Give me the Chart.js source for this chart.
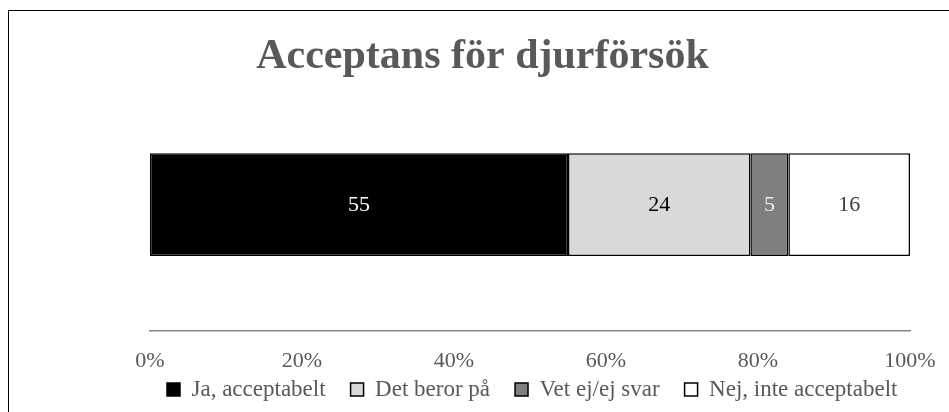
<!DOCTYPE html>
<html>
<head>
<meta charset="utf-8">
<script src="https://cdn.jsdelivr.net/npm/chart.js@4.4.0/dist/chart.umd.min.js"></script>
<style>
  html, body { margin: 0; padding: 0; background: #fff; overflow: hidden; }
  #frame { position: absolute; left: 8px; top: 10px; width: 980px; height: 440px; border: 1px solid #000; }
  #wrap { position: absolute; left: 9px; top: 11px; width: 947px; height: 422px; }
</style>
</head>
<body>
<div id="frame"></div>
<div id="wrap"><canvas id="chart"></canvas></div>
<script>
const categories = ['Acceptans för djurförsök'];
const seriesNames = ['Ja, acceptabelt', 'Det beror på', 'Vet ej/ej svar', 'Nej, inte acceptabelt'];
const seriesValues = [[55], [24], [5], [16]];
const seriesColors = ['#000000', '#d9d9d9', '#7f7f7f', '#ffffff'];
const valueColors = ['#ffffff', '#000000', '#eeeeee', '#404040'];
const tickLabels = ['0%', '20%', '40%', '60%', '80%', '100%'];

const serif = "'Liberation Serif', 'Times New Roman', serif";

// draws the numbers in the middle of each segment
const valueLabels = {
    id: 'valueLabels',
    afterDatasetsDraw(chart) {
        const ctx = chart.ctx;
        ctx.save();
        ctx.font = '22px ' + serif;
        ctx.textAlign = 'center';
        ctx.textBaseline = 'middle';
        chart.data.datasets.forEach((ds, i) => {
            const meta = chart.getDatasetMeta(i);
            meta.data.forEach((bar, j) => {
                const p = bar.getCenterPoint();
                ctx.fillStyle = valueColors[i];
                ctx.fillText(String(ds.data[j]), p.x, p.y + 1);
            });
        });
        ctx.restore();
    }
};

// pull the legend up closer to the tick labels and under the bar
const legendNudge = {
    id: 'legendNudge',
    afterLayout(chart) {
        const lg = chart.legend;
        lg.top -= 22;
        lg.bottom -= 22;
        lg.left += 87;
        lg.right += 87;
    }
};

const datasets = seriesNames.map((name, i) => ({
    label: name,
    data: seriesValues[i],
    backgroundColor: seriesColors[i],
    borderColor: '#000000',
    borderWidth: 1.5,
    borderSkipped: false,
    barPercentage: 1,
    categoryPercentage: 0.407
}));

const ctx = document.getElementById('chart').getContext('2d');
new Chart(ctx, {
    type: 'bar',
    data: { labels: categories, datasets: datasets },
    plugins: [valueLabels, legendNudge],
    options: {
        indexAxis: 'y',
        responsive: true,
        maintainAspectRatio: false,
        animation: false,
        layout: { padding: { left: 46, right: 46, top: 0, bottom: 0 } },
        scales: {
            x: {
                stacked: true,
                min: 0,
                max: 100,
                grid: { display: false, drawTicks: false },
                border: { display: true, color: '#868686', width: 1.5 },
                ticks: {
                    stepSize: 20,
                    padding: 17,
                    color: '#595959',
                    font: { family: serif, size: 22 },
                    callback: (value, index) => tickLabels[index]
                },
                afterFit: scale => { scale.height = 44; }
            },
            y: {
                stacked: true,
                grid: { display: false, drawTicks: false },
                border: { display: false },
                ticks: { display: false },
                afterFit: scale => { scale.width = 95; }
            }
        },
        plugins: {
            title: {
                display: true,
                text: 'Acceptans för djurförsök',
                color: '#595959',
                font: { family: serif, size: 42, weight: 'bold' },
                padding: { top: 21, bottom: -4 }
            },
            legend: {
                position: 'bottom',
                align: 'start',
                labels: {
                    boxWidth: 13,
                    boxHeight: 13,
                    padding: 25,
                    color: '#595959',
                    font: { family: serif, size: 23 }
                }
            },
            tooltip: { enabled: false }
        }
    }
});
</script>
</body>
</html>
